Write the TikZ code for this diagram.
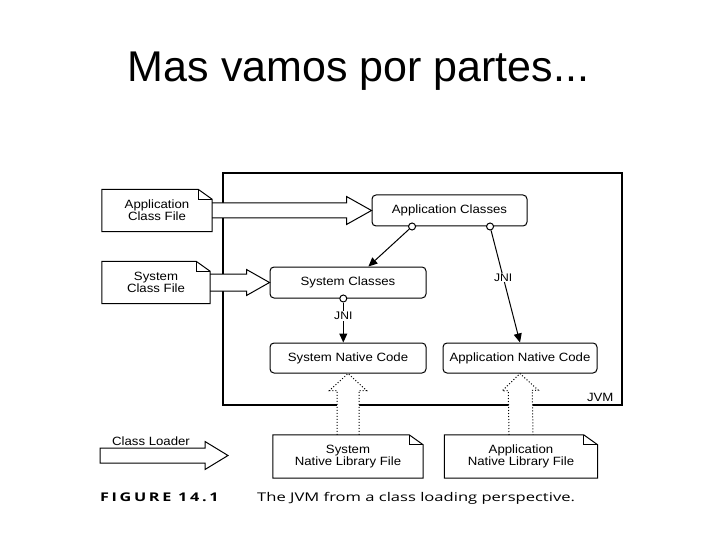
\documentclass[tikz,border=0pt]{standalone}
\usepackage{fontspec}
\setmainfont{Liberation Sans}
\newfontfamily\diagfont[FakeStretch=1.1]{Liberation Sans}
\newfontfamily\capfont[FakeStretch=1.38]{Open Sans}
\newfontfamily\capfontsp[FakeStretch=1.35, LetterSpace=22]{Open Sans}
\usetikzlibrary{arrows.meta, positioning, calc}

\begin{document}
\begin{tikzpicture}[x=1pt, y=-1pt,
  cls/.style={draw, line width=1pt, rounded corners=4pt,
              minimum width=155pt, minimum height=31pt,
              font=\diagfont\fontsize{12}{12}\selectfont, inner sep=0pt},
  docfile/.style={minimum width=110pt, minimum height=42pt, align=center,
                  font=\diagfont\fontsize{12}{12}\selectfont, inner sep=0pt},
  jack/.style={circle, draw, fill=white, line width=1pt,
               minimum size=7pt, inner sep=0pt},
  conn/.style={line width=1pt, -{Triangle[length=9pt, width=8pt]}},
  fatarr/.style={line width=1pt, fill=white},
  fat/.style n args={3}{to path={
      ($(\tikztotarget)!#3!(\tikztostart)$) coordinate (fathb)
      ($(\tikztostart)!#1!90:(\tikztotarget)$)
      -- ($(fathb)!#1!-90:(\tikztostart)$)
      -- ($(fathb)!#2!-90:(\tikztostart)$)
      -- (\tikztotarget)
      -- ($(fathb)!#2!90:(\tikztostart)$)
      -- ($(fathb)!#1!90:(\tikztostart)$)
      -- ($(\tikztostart)!#1!-90:(\tikztotarget)$)}},
  lbl/.style={font=\diagfont\fontsize{11}{11}\selectfont, fill=white, inner sep=1pt},
]
\path[fill=white, use as bounding box] (0,0) rectangle (720,540);

% ---- Title -----------------------------------------------------------------
\node[font=\fontsize{43}{43}\selectfont, anchor=base, inner sep=0pt]
  (title) at (358.5,82) {Mas vamos por partes...};

% ---- JVM frame -------------------------------------------------------------
\node[draw, line width=1.2pt, minimum width=399pt, minimum height=232pt,
  inner sep=0pt] (jvm) at (422.5,289) {};
\node[font=\diagfont\fontsize{12}{12}\selectfont, anchor=south east, inner sep=0pt]
  (jvmlbl) at ($(jvm.south east)+(-9,-4)$) {JVM};

% ---- Class files -----------------------------------------------------------
\node[docfile] (appfile) at (157,210.5) {Application\\Class File};
\node[docfile, minimum width=108pt] (sysfile) at (156,282.5) {System\\Class File};

% ---- Classes and native code -----------------------------------------------
\node[cls] (appcls) at (449.5,210.5) {Application Classes};
\node[cls, minimum width=156pt] (syscls) at (348,282.5) {System Classes};
\node[cls, minimum width=156pt, minimum height=30pt] (sysnat) at (348,358)
  {System Native Code};
\node[cls, minimum width=154pt, minimum height=30pt] (appnat) at (520,358)
  {Application Native Code};

% ---- Native library files --------------------------------------------------
\node[docfile, minimum width=150pt, minimum height=43pt] (sysnlib) at (348,456.5)
  {System\\Native Library File};
\node[docfile, minimum width=153pt, minimum height=43pt] (appnlib) at (521,456.5)
  {Application\\Native Library File};

% ---- Loading arrows --------------------------------------------------------
\draw[fatarr] (appfile.east) to[fat={7.5pt}{14pt}{25pt}] (appcls.west);
\draw[fatarr] (sysfile.east) to[fat={8.5pt}{13pt}{23pt}] (syscls.west);
\draw[fatarr, dotted] (sysnlib.north) to[fat={11pt}{18.5pt}{17pt}] (sysnat.south);
\draw[fatarr, dotted] (appnlib.north) to[fat={12pt}{18pt}{17pt}] (appnat.south);

% ---- JNI links -------------------------------------------------------------
\node[jack] (jk1) at ($(appcls.south west)!0.26!(appcls.south east)$) {};
\node[jack] (jk2) at ($(appcls.south west)!0.76!(appcls.south east)$) {};
\node[jack] (jk3) at ($(syscls.south west)!0.47!(syscls.south east)$) {};
\draw[conn] (jk1) -- ($(syscls.north west)!0.63!(syscls.north east)$);
\draw[conn] (jk2) -- node[lbl, pos=0.42]{JNI} (appnat.north);
\draw[conn] (jk3) -- node[lbl, pos=0.33]{JNI} (jk3 |- sysnat.north);

% ---- File outlines ---------------------------------------------------------
\foreach \d in {appfile, sysfile, sysnlib, appnlib} {
  \draw[line width=1pt] (\d.south west) |- ($(\d.north east)+(-14,0)$)
    -- ($(\d.north east)+(0,10)$) |- cycle;
  \draw[line width=0.8pt] ($(\d.north east)+(-14,0)$) |- ($(\d.north east)+(0,10)$);
}

% ---- Legend ----------------------------------------------------------------
\coordinate (ldstart) at (100,455.5);
\coordinate (ldend) at (228,455.5);
\draw[fatarr] (ldstart) to[fat={7.5pt}{14pt}{23pt}] (ldend) -- cycle;
\node[font=\diagfont\fontsize{12}{12}\selectfont] (ldlbl) at (151,441) {Class Loader};

% ---- Caption ---------------------------------------------------------------
\node[font=\capfontsp\bfseries\fontsize{12}{12}\selectfont, anchor=base west,
  inner sep=0pt] (fignum) at (100,501) {FIGURE 14.1};
\node[font=\capfont\fontsize{12}{12}\selectfont, anchor=base west,
  inner sep=0pt] (figcap) at (257,501) {The JVM from a class loading perspective.};
\end{tikzpicture}
\end{document}
